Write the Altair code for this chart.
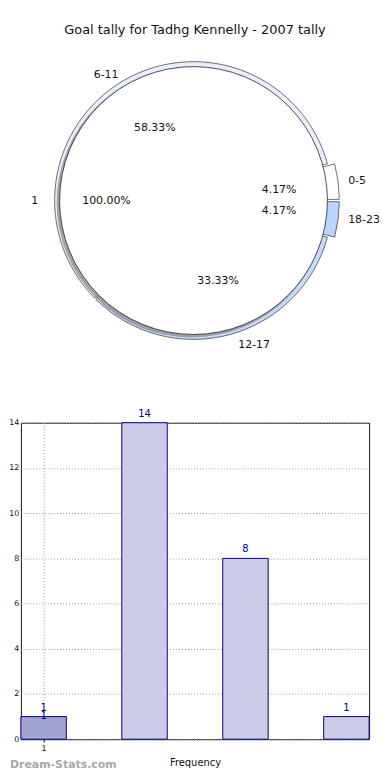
import math
import altair as alt
import pandas as pd

TITLE = "Goal tally for Tadhg Kennelly - 2007 tally"

# outer ring of the pie: goal-tally ranges and how often each occurred
ranges = ["0-5", "6-11", "12-17", "18-23"]
counts = [1, 14, 8, 1]
# inner pie: one group holding everything
inner_labels = ["1"]
inner_counts = [24]

# bar chart
bar_pos = [1, 2, 3, 4]
bar_vals = [1, 14, 8, 1]
x_ticks = [1]
y_ticks = [0, 2, 4, 6, 8, 10, 12, 14]

ring_colors = ["#ffffff", "#e9eefc", "#c6daff", "#b9d5ff"]
FONT = "DejaVu Sans"

pie_df = pd.DataFrame({"range": ranges, "count": counts, "i": list(range(len(ranges)))})
inner_df = pd.DataFrame({"label": inner_labels, "count": inner_counts})
bar_df = pd.DataFrame({"pos": bar_pos, "val": bar_vals})
title_df = pd.DataFrame({"t": [TITLE]})
wm_df = pd.DataFrame({"t": ["Dream-Stats.com"]})

total = sum(counts)
# pie panel origin sits right of the bar chart's y-axis labels (about 11px)
OX = 11
W1, H1 = 374 - OX, 362
CX, CY = 193 - 8 - OX, 190
R_IN = 135
R_RING = 140
R_SMALL = 147
A0 = math.pi / 2
theta_scale = alt.Scale(domain=[0, total], range=[A0, A0 - 2 * math.pi])

cx = alt.value(CX)
cy = alt.value(CY)

base = (
    alt.Chart(pie_df)
    .transform_window(cum="sum(count)", sort=[alt.SortField("i")])
    .transform_joinaggregate(total="sum(count)")
    .transform_calculate(
        start="datum.cum - datum.count",
        mid="datum.cum - datum.count / 2",
        pct="format(100 * datum.count / datum.total, '.2f') + '%'",
        side="cos(2 * PI * (datum.cum - datum.count / 2) / datum.total) >= 0 ? 'R' : 'L'",
    )
)

color_enc = alt.Color("range:N", scale=alt.Scale(domain=ranges, range=ring_colors), legend=None)
small = alt.FieldOneOfPredicate(field="range", oneOf=["0-5", "18-23"])

ring_big = base.transform_filter(alt.LogicalNotPredicate(**{"not": small})).mark_arc(
    radius=R_RING, stroke="#333333", strokeWidth=0.7, padAngle=0.012
).encode(
    theta=alt.Theta("start:Q", scale=theta_scale), theta2="cum:Q", color=color_enc, x=cx, y=cy
)
ring_small = base.transform_filter(small).mark_arc(
    radius=R_SMALL, radius2=R_IN - 6, stroke="#333333", strokeWidth=0.7, padAngle=0.012
).encode(
    theta=alt.Theta("start:Q", scale=theta_scale), theta2="cum:Q", color=color_enc, x=cx, y=cy
)

shadow = alt.Chart(inner_df).mark_arc(radius=R_IN + 1, fill="#8a8a8a", opacity=0.75).encode(
    theta=alt.Theta("count:Q", stack=True, scale=theta_scale),
    x=alt.value(CX - 2), y=alt.value(CY + 2),
)
inner = alt.Chart(inner_df).mark_arc(radius=R_IN, fill="white", stroke="#222222", strokeWidth=0.8).encode(
    theta=alt.Theta("count:Q", stack=True, scale=theta_scale), x=cx, y=cy
)

txt = dict(font=FONT, fontSize=11, color="#111111", baseline="middle")
lab_R = base.transform_filter("datum.side == 'R'").mark_text(
    radius=R_RING * 1.08, align="left", dx=6, **txt
).encode(theta=alt.Theta("mid:Q", scale=theta_scale), text="range:N", x=cx, y=cy)
lab_L = base.transform_filter("datum.side == 'L'").mark_text(
    radius=R_RING * 1.08, align="right", dy=4, **txt
).encode(theta=alt.Theta("mid:Q", scale=theta_scale), text="range:N", x=cx, y=cy)
pct = base.mark_text(radius=R_RING * 0.6, align="center", dx=3, **txt).encode(
    theta=alt.Theta("mid:Q", scale=theta_scale), text="pct:N", x=cx, y=cy
)
inner_base = (
    alt.Chart(inner_df)
    .transform_joinaggregate(total="sum(count)")
    .transform_calculate(mid="datum.count / 2", pct="format(100 * datum.count / datum.total, '.2f') + '%'")
)
inner_lab = inner_base.mark_text(radius=R_IN * 1.16, align="right", **txt).encode(
    theta=alt.Theta("mid:Q", scale=theta_scale), text="label:N", x=cx, y=cy
)
inner_pct = inner_base.mark_text(radius=R_IN * 0.65, align="center", **txt).encode(
    theta=alt.Theta("mid:Q", scale=theta_scale), text="pct:N", x=cx, y=cy
)
title = alt.Chart(title_df).mark_text(font=FONT, fontSize=13, color="#111111", baseline="middle").encode(
    text="t:N", x=alt.value(194.5 - 8 - OX), y=alt.value(18)
)

pie = alt.layer(
    ring_big, ring_small, shadow, inner, lab_R, lab_L, pct, inner_lab, inner_pct, title
).properties(width=W1, height=H1, view=alt.ViewBackground(stroke="transparent"))

# ---------------- bar chart ----------------
W2, H2 = 351, 319
xs = alt.Scale(domain=[0.775, 4.225], nice=False, zero=False)
ys = alt.Scale(domain=[0, 14], nice=False)
grid = dict(grid=True, gridColor="#9a9a9a", gridDash=[1, 2], gridWidth=1)

bbase = alt.Chart(bar_df).transform_calculate(x0="datum.pos - 0.225", x1="datum.pos + 0.225")
bars = bbase.mark_rect(stroke="#00008b", strokeWidth=1).encode(
    x=alt.X(
        "x0:Q", scale=xs,
        axis=alt.Axis(values=x_ticks, format="d", title="Frequency", titleFont=FONT, titleFontSize=10,
                      titleFontWeight="normal", titleColor="#111111", titlePadding=6,
                      labelFont=FONT, labelFontSize=8, labelColor="#111111", tickSize=3,
                      tickColor="#111111", domain=False, labelPadding=2, **grid),
    ),
    x2="x1:Q",
    y=alt.Y(
        "val:Q", scale=ys,
        axis=alt.Axis(values=y_ticks, title="", labelFont=FONT, labelFontSize=8, labelColor="#111111",
                      tickSize=0, domain=False, labelPadding=2, **grid),
    ),
    y2=alt.datum(0),
    color=alt.condition("datum.pos == 1", alt.value("#a3a3cf"), alt.value("#ccccE6")),
)
blab = alt.Chart(bar_df).mark_text(font=FONT, fontSize=10, color="#00008b", baseline="middle", dy=-9).encode(
    x=alt.X("pos:Q", scale=xs), y=alt.Y("val:Q", scale=ys), text="val:Q"
)
blab2 = alt.Chart(bar_df).transform_filter("datum.pos == 1").mark_text(
    font=FONT, fontSize=10, color="#00008b", baseline="middle", dy=-1
).encode(x=alt.X("pos:Q", scale=xs), y=alt.Y("val:Q", scale=ys), text="val:Q")
wm = alt.Chart(wm_df).mark_text(
    font=FONT, fontSize=11, fontWeight="bold", color="#a8a8a8", align="left", baseline="middle"
).encode(text="t:N", x=alt.value(-OX), y=alt.value(345))

barchart = alt.layer(bars, blab, blab2, wm).properties(
    width=W2, height=H2, view=alt.ViewBackground(stroke="#111111", strokeWidth=1)
)

chart = (
    alt.vconcat(pie, barchart, spacing=36)
    .properties(padding=0, background="white")
    .configure(font=FONT)
)

chart.save("out.html", embed_options={"renderer": "svg", "actions": False})
